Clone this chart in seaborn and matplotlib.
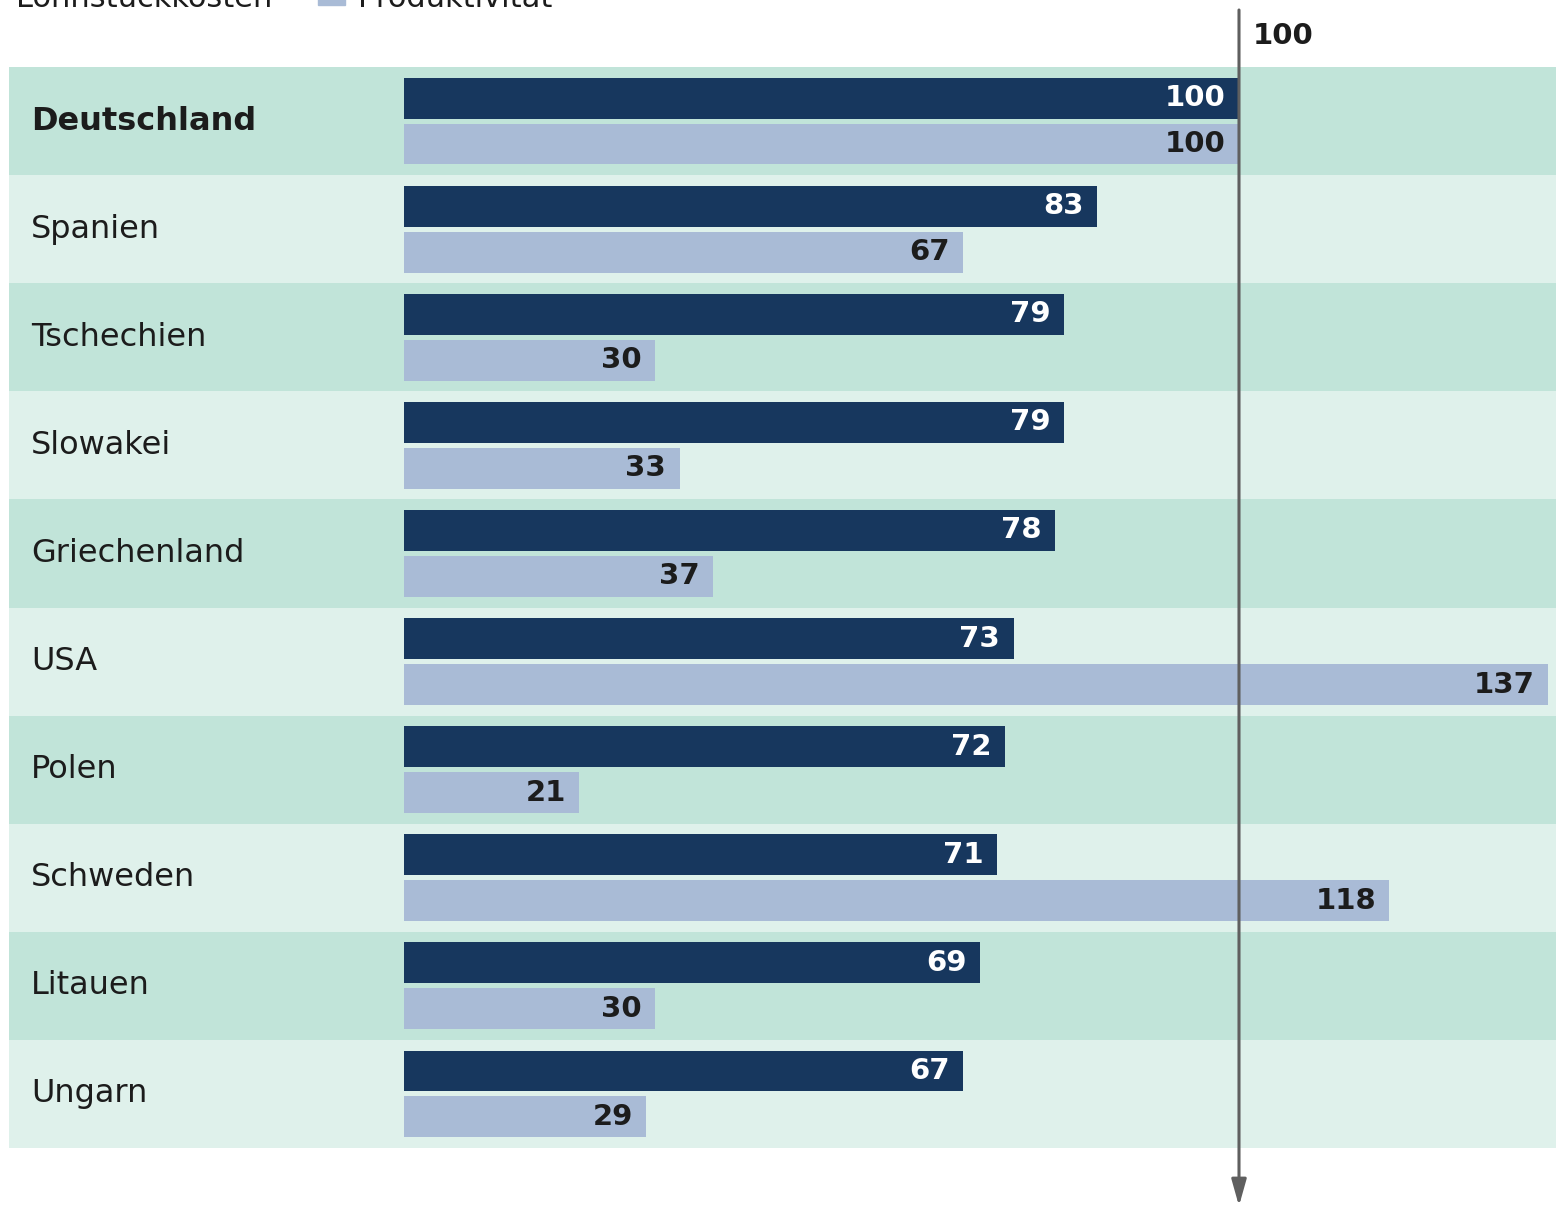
import matplotlib
matplotlib.use("Agg")
import matplotlib.pyplot as plt
import pandas as pd
import seaborn as sns
from matplotlib.patches import Rectangle

# Daten
laender = ["Deutschland", "Spanien", "Tschechien", "Slowakei", "Griechenland",
           "USA", "Polen", "Schweden", "Litauen", "Ungarn"]
lohnstueckkosten = [100, 83, 79, 79, 78, 73, 72, 71, 69, 67]
produktivitaet = [100, 67, 30, 33, 37, 137, 21, 118, 30, 29]
serien = ["Lohnstückkosten", "Produktivität"]

dunkel = "#17375e"
hell = "#a9bbd6"
band_a = "#c1e4d9"
band_b = "#dff1eb"
text_farbe = "#1c1c1c"

df = pd.DataFrame({
    "Land": laender * 2,
    "Wert": lohnstueckkosten + produktivitaet,
    "Serie": [serien[0]] * len(laender) + [serien[1]] * len(laender),
})

sns.set_style("white")
plt.rcParams["font.family"] = ["DejaVu Sans"]

W, H = 1561, 1206
fig = plt.figure(figsize=(W / 100, H / 100), dpi=100)

# Achse deckt die farbigen Zeilen ab
ax = fig.add_axes([9 / W, (H - 1148) / H, (1556 - 9) / W, (1148 - 67) / H])
px_per_unit = (1239 - 404) / 100
ax.set_xlim(-(404 - 9) / px_per_unit, (1556 - 404) / px_per_unit)

# Hintergrundstreifen
for i in range(len(laender)):
    ax.axhspan(i - 0.5, i + 0.5, color=band_a if i % 2 == 0 else band_b,
               lw=0, zorder=0)

sns.barplot(data=df, y="Land", x="Wert", hue="Serie", orient="h",
            palette=[dunkel, hell], width=0.85, gap=0.11, legend=False,
            ax=ax, zorder=2, saturation=1, linewidth=0)

ax.set_ylim(len(laender) - 0.5, -0.5)

# Wertebeschriftungen
for cont, farbe in zip(ax.containers, ["white", text_farbe]):
    for bar in cont:
        w = bar.get_width()
        yc = bar.get_y() + bar.get_height() / 2
        ax.text(w - 1.6, yc, f"{w:.0f}", ha="right", va="center",
                fontsize=21, fontweight="bold", color=farbe, zorder=3)

# Ländernamen
for i, land in enumerate(laender):
    ax.text(-44.7, i, land, ha="left", va="center", fontsize=23,
            color=text_farbe, fontweight="bold" if i == 0 else "normal",
            zorder=3)

ax.set_xlabel("")
ax.set_ylabel("")
ax.set_xticks([])
ax.set_yticks([])
for s in ax.spines.values():
    s.set_visible(False)

# Referenzpfeil bei 100
ax.annotate("", xy=(100, 0.0), xytext=(100, 1 - 10 / H),
            xycoords=("data", "figure fraction"),
            textcoords=("data", "figure fraction"),
            arrowprops=dict(arrowstyle="-|>,head_width=0.45,head_length=1.6",
                            color="#5f5f5f", lw=2.2, shrinkA=0, shrinkB=0),
            annotation_clip=False, zorder=5)
fig.text(1253 / W, 1 - 36 / H, "100", ha="left", va="center",
         fontsize=21, fontweight="bold", color=text_farbe)

# Legende (oben abgeschnitten, wie im Original)
fig.text(272 / W, 1 - 7 / H, serien[0], ha="right", va="baseline",
         fontsize=22, color=text_farbe)
fig.patches.append(Rectangle((318 / W, 1 - 5 / H), 27 / W, 30 / H,
                             transform=fig.transFigure, color=hell))
fig.text(358 / W, 1 - 7 / H, serien[1], ha="left", va="baseline",
         fontsize=22, color=text_farbe)

fig.savefig("out.png", dpi=100)
